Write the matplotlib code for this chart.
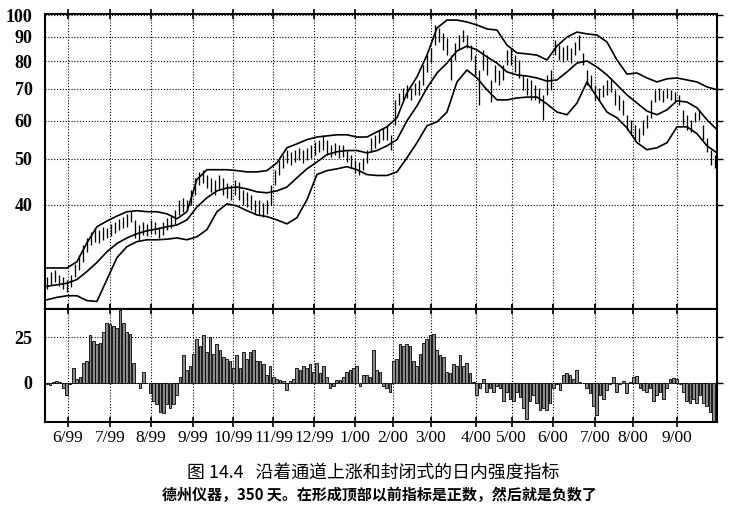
import numpy as np
import matplotlib
matplotlib.use('Agg')
import matplotlib.pyplot as plt
from matplotlib.ticker import FixedLocator, FixedFormatter, NullLocator

# ---------------- data ----------------
month_labels = ['6/99', '7/99', '8/99', '9/99', '10/99', '11/99', '12/99', '1/00',
                '2/00', '3/00', '4/00', '5/00', '6/00', '7/00', '8/00', '9/00']
month_pos = [12, 34, 55, 77, 98, 119, 140, 161.5, 181, 201, 224.5, 243, 264.5, 286.5, 306, 329]

price_ticks = [40, 50, 60, 70, 80, 90, 100]
osc_ticks = [0, 25]

bar_high = [28.2, 29.0, 29.2, 28.5, 28.2, 27.9, 28.5, 30.0, 31.4, 33.0,
            34.1, 35.1, 35.8, 35.5, 36.0, 35.8, 36.5, 36.9, 37.4, 37.8,
            38.3, 38.9, 37.2, 36.3, 36.9, 36.5, 37.2, 36.9, 36.0, 36.9,
            37.6, 38.1, 39.1, 41.0, 41.4, 41.0, 43.0, 45.6, 46.9, 47.4,
            46.3, 45.6, 45.2, 46.3, 45.6, 44.5, 44.1, 45.2, 44.7, 43.0,
            42.6, 42.0, 41.0, 41.0, 40.4, 41.0, 44.1, 47.4, 49.7, 51.0,
            52.2, 51.7, 52.2, 52.7, 52.2, 52.7, 53.5, 54.2, 54.8, 56.1,
            54.8, 53.5, 54.0, 53.5, 53.5, 52.2, 51.0, 49.7, 49.2, 50.2,
            52.2, 55.3, 56.1, 57.5, 58.0, 58.9, 56.1, 66.4, 68.7, 70.3,
            71.4, 70.3, 72.0, 73.1, 78.6, 82.4, 85.3, 95.3, 93.9, 91.7,
            89.5, 82.4, 87.3, 90.8, 93.0, 90.8, 86.5, 82.4, 76.7, 84.5,
            82.4, 73.1, 78.6, 76.7, 78.6, 84.5, 85.3, 82.4, 80.5, 74.9,
            73.8, 73.1, 71.4, 70.3, 68.0, 74.9, 76.7, 88.6, 86.5, 85.7,
            86.5, 85.3, 87.8, 90.8, 83.3, 76.7, 74.9, 71.4, 70.3, 71.4,
            73.1, 73.8, 69.7, 68.0, 66.4, 61.8, 60.3, 58.9, 58.0, 60.3,
            61.8, 66.4, 69.7, 70.3, 69.7, 70.3, 69.7, 69.0, 68.0, 63.3,
            61.8, 60.3, 62.6, 63.3, 58.9, 55.3, 52.2, 51.0]

bar_low = [26.6, 27.2, 27.6, 27.0, 26.6, 26.3, 26.9, 28.2, 29.2, 30.4,
           31.9, 33.0, 33.5, 33.3, 33.8, 34.1, 34.5, 35.0, 35.5, 35.8,
           36.0, 36.9, 34.1, 33.8, 34.6, 34.5, 34.8, 34.8, 34.1, 34.6,
           35.5, 35.8, 36.5, 38.1, 38.7, 39.1, 40.0, 42.0, 44.1, 44.5,
           43.4, 42.6, 42.0, 43.0, 42.0, 41.4, 41.0, 42.0, 41.0, 40.0,
           39.5, 39.1, 38.5, 38.1, 37.8, 38.3, 40.0, 44.1, 46.3, 47.8,
           49.0, 48.6, 49.2, 49.7, 49.0, 49.7, 50.2, 51.0, 51.7, 52.2,
           51.0, 50.5, 51.0, 50.2, 50.5, 49.2, 47.8, 46.7, 46.3, 47.4,
           49.0, 51.7, 52.7, 54.0, 54.8, 54.8, 52.2, 58.9, 64.8, 66.4,
           67.0, 66.4, 68.0, 68.0, 71.4, 75.9, 79.7, 86.5, 87.8, 84.5,
           82.4, 73.1, 80.5, 84.5, 87.8, 85.3, 80.5, 74.9, 64.8, 76.7,
           74.9, 65.7, 72.4, 71.4, 73.1, 78.6, 78.6, 75.9, 73.8, 69.7,
           68.0, 66.4, 66.4, 65.4, 60.3, 68.0, 69.7, 82.4, 80.5, 79.7,
           80.5, 79.3, 82.4, 84.5, 78.6, 71.4, 69.7, 66.4, 66.4, 67.3,
           68.0, 69.0, 64.8, 63.3, 61.8, 57.5, 56.1, 54.8, 54.2, 56.1,
           58.0, 60.8, 65.7, 66.4, 65.7, 67.0, 66.4, 65.7, 64.8, 58.9,
           57.5, 56.8, 59.7, 60.3, 54.8, 51.7, 48.6, 47.8]

band_upper = [29.5, 29.5, 29.5, 30.4, 33.3, 36.0, 37.0, 37.9, 38.7, 38.9,
              38.7, 38.7, 38.3, 37.4, 38.7, 45.2, 47.4, 47.4, 47.4, 47.2,
              46.9, 46.9, 47.2, 49.0, 52.7, 53.7, 54.8, 55.5, 55.8, 56.1,
              56.1, 55.5, 55.5, 56.9, 58.3, 60.9, 68.7, 74.2, 82.4, 93.9,
              97.6, 97.6, 96.7, 95.3, 93.5, 93.0, 86.5, 83.3, 82.9, 82.4,
              80.5, 86.1, 89.9, 92.1, 91.3, 90.8, 87.8, 80.5, 75.2, 75.6,
              73.8, 72.4, 73.5, 73.8, 73.1, 72.4, 70.7, 69.7]

band_mid = [27.0, 27.2, 27.4, 27.9, 29.0, 30.3, 31.9, 33.2, 34.1, 34.8,
            35.3, 35.6, 36.0, 36.3, 37.2, 39.6, 41.4, 42.8, 43.4, 43.6,
            43.2, 42.6, 42.4, 42.8, 43.6, 45.6, 47.6, 49.2, 51.0, 51.7,
            52.0, 52.0, 51.4, 52.0, 53.2, 54.8, 60.0, 64.5, 70.3, 75.6,
            79.3, 84.1, 86.1, 84.5, 81.7, 79.3, 76.0, 74.9, 74.5, 73.8,
            72.7, 73.1, 76.0, 79.3, 80.1, 77.8, 74.9, 71.4, 68.0, 65.4,
            62.9, 61.8, 63.3, 66.1, 65.7, 63.9, 60.3, 57.5]

band_lower = [25.3, 25.6, 25.8, 25.8, 25.2, 25.1, 27.9, 31.0, 32.7, 33.5,
              33.8, 33.8, 33.9, 34.1, 33.8, 34.3, 35.5, 38.7, 40.2, 39.8,
              38.9, 38.1, 37.8, 37.2, 36.5, 37.6, 41.0, 46.3, 47.2, 47.6,
              48.1, 47.4, 46.3, 46.1, 46.1, 46.9, 50.2, 54.0, 58.6, 59.7,
              62.6, 72.4, 76.7, 73.8, 69.7, 66.4, 66.4, 67.0, 67.3, 67.3,
              65.1, 62.6, 61.8, 65.4, 72.4, 67.3, 62.6, 60.9, 58.0, 54.0,
              52.2, 52.7, 54.0, 58.3, 58.3, 56.4, 53.2, 51.4]

strength = [-1, -1.5, 0.5, 1, 0.5, -3, -7, -1, 8, 2,
            3, 11, 12, 26, 23, 21, 22, 28, 33, 32,
            31, 30, 40, 33, 28, 27, 11, 0, -3, 6,
            0, -6, -10, -12, -16, -17, -12, -14, -12, -7,
            3, 15, 7, 9, 16, 24, 20, 26, 17, 25,
            16, 21, 18, 14, 13, 12, 8, 15, 8, 17,
            13, 17, 18, 12, 12, 10, 4, 9, 3, 2,
            1.5, 1, -4, 1, 2, 8, 7, 9, 8, 10,
            6, 11, 5, 9, 3, -3, -2, 1.5, 1.5, 3,
            6, 7, 8, 9, -2, 4, 4,
            3, 18, 7, 6, -2, -3, -5, 12, 13, 21,
            20, 21, 20, 12, 9, 16, 22, 24, 26, 27,
            18, 15, 14, 6, 5, 10, 9, 15, 9, 11,
            5, 0.5, -7, -3, 2, -5, -3, -5, -2, -3,
            -10, -5, -9, -10, -5, -8, -14, -20, -10, -7,
            -11, -15, -14, -15, -11, -3, -1, -4, 4, 5,
            4, 2, 7, 0.5, 0, -3, -6, -13, -18, -7,
            -9, -4, -1, 3, -5, -1, 1, -6, 0.5, 3,
            3.5, -3, -4, -5, -3, -10, -7, -5, -9, -3,
            2, 2.5, 2, -1, -5, -10, -11, -9, -11, -7,
            -11, -13, -16, -21]

caption1 = '图 14.4   沿着通道上涨和封闭式的日内强度指标'
caption2 = '德州仪器，350 天。在形成顶部以前指标是正数，然后就是负数了'

# ---------------- figure ----------------
W, H = 735, 509
fig = plt.figure(figsize=(W / 100, H / 100), dpi=100)
ax1 = fig.add_axes([45 / W, 1 - 309 / H, 672 / W, 295 / H])
ax2 = fig.add_axes([45 / W, 1 - 422 / H, 672 / W, 113 / H])

x_bars = np.linspace(1, 349, len(bar_high))
x_band = np.linspace(1, 350, len(band_upper))
x_osc = np.linspace(0.9, 348.1, len(strength))

grid_kw = dict(color='black', linestyle=(0, (1, 1.6)), linewidth=0.8)
serif = 'Liberation Serif'

# price panel
ax1.set_yscale('log')
ax1.vlines(x_bars, bar_low, bar_high, color='black', linewidth=0.95)
for band in (band_upper, band_mid, band_lower):
    ax1.plot(x_band, band, color='black', linewidth=1.2)
ax1.set_xlim(0, 350)
ax1.set_ylim(24.2, 100.5)
ax1.yaxis.set_major_locator(FixedLocator(price_ticks))
ax1.yaxis.set_major_formatter(FixedFormatter([str(t) for t in price_ticks]))
ax1.yaxis.set_minor_locator(NullLocator())
ax1.xaxis.set_major_locator(FixedLocator(month_pos))
ax1.xaxis.set_minor_locator(NullLocator())
ax1.grid(True, which='major', **grid_kw)
ax1.tick_params(axis='x', which='major', direction='inout', length=7, width=1.2,
                top=True, bottom=True, labelbottom=False)
ax1.tick_params(axis='y', which='major', left=False, right=True, direction='out',
                length=4, width=1.0, pad=5, labelsize=13)
for lab in ax1.get_yticklabels():
    lab.set_fontfamily(serif)
    lab.set_fontweight('bold')

# oscillator panel
ax2.bar(x_osc, strength, width=1.35, color='#8c8c8c', edgecolor='black', linewidth=0.6)
ax2.set_xlim(0, 350)
ax2.set_ylim(-21.7, 40.5)
ax2.yaxis.set_major_locator(FixedLocator(osc_ticks))
ax2.yaxis.set_major_formatter(FixedFormatter([str(t) for t in osc_ticks]))
ax2.xaxis.set_major_locator(FixedLocator(month_pos))
ax2.xaxis.set_major_formatter(FixedFormatter(month_labels))
ax2.grid(True, which='major', **grid_kw)
ax2.set_axisbelow(True)
ax2.tick_params(axis='x', which='major', direction='inout', length=7, width=1.2,
                top=True, bottom=True, pad=2, labelsize=12.5)
ax2.tick_params(axis='y', which='major', left=False, right=True, direction='out',
                length=4, width=1.0, pad=5, labelsize=13)
for lab in ax2.get_yticklabels():
    lab.set_fontfamily(serif)
    lab.set_fontweight('bold')
for lab in ax2.get_xticklabels():
    lab.set_fontfamily(serif)

for ax in (ax1, ax2):
    for sp in ax.spines.values():
        sp.set_linewidth(1.5)

cjk = ['Noto Sans CJK SC', 'DejaVu Sans']
fig.text(0.508, 1 - 473 / H, caption1, ha='center', va='center', fontsize=12.9,
         family=cjk, fontweight='medium')
fig.text(0.516, 1 - 495 / H, caption2, ha='center', va='center', fontsize=10.8,
         family=cjk, fontweight='bold')

fig.savefig('out.png', dpi=100)
